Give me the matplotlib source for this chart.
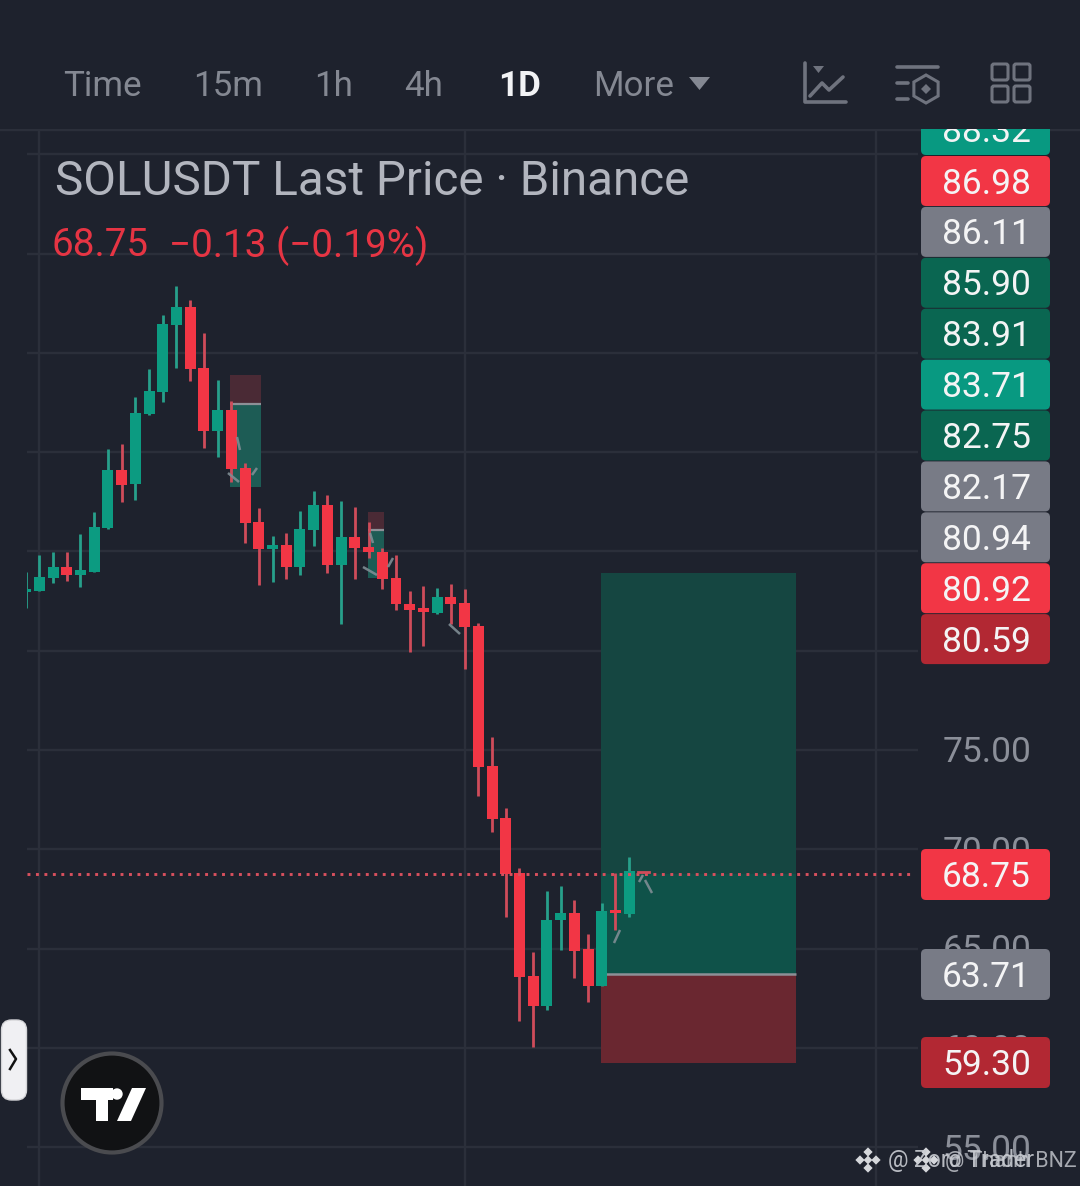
import matplotlib
matplotlib.use("Agg")
import matplotlib.pyplot as plt
from matplotlib.patches import FancyBboxPatch, Rectangle, Circle, Polygon, RegularPolygon

plt.rcParams['font.family'] = ['Roboto', 'DejaVu Sans']

# ---------- data ----------
opens = [82.97,83.02,83.68,84.23,83.81,83.98,86.16,89.10,88.38,91.90,93.04,96.41,97.29,94.22,91.06,92.12,89.18,
         86.48,85.11,85.32,84.23,86.08,87.34,84.31,85.71,85.24,84.98,83.65,82.35,82.15,81.91,82.72,82.39,81.24,
         74.19,71.56,68.79,63.62,62.11,66.44,66.78,64.97,63.12,66.97,66.73]
closes = [83.09,83.73,84.20,83.81,84.06,86.24,89.10,88.34,91.95,93.08,96.45,97.29,94.18,91.06,92.12,89.15,86.44,
          85.12,85.32,84.23,86.11,87.34,84.31,85.71,85.16,84.97,83.61,82.35,82.05,81.96,82.72,82.35,81.18,74.16,
          71.53,68.74,63.56,62.11,66.44,66.81,64.89,63.12,66.89,66.79,68.91]
highs = [83.98,84.82,84.98,84.98,85.88,86.97,90.16,90.41,92.79,94.18,96.90,98.36,97.66,96.01,93.63,92.59,89.44,
         87.20,85.77,85.94,87.03,88.04,87.84,87.54,87.25,86.49,85.17,84.82,83.02,83.26,83.14,83.34,83.11,81.38,
         75.67,72.06,69.04,64.81,67.90,68.15,67.45,65.74,67.31,68.79,69.60]
lows = [82.13,83.02,83.42,83.51,83.19,83.98,86.11,87.47,87.59,91.87,92.54,94.25,93.59,90.22,89.77,88.51,85.41,
        83.31,83.44,83.59,83.81,85.27,83.90,81.34,83.59,84.65,83.09,82.05,79.92,80.25,81.83,81.34,79.08,72.68,
        70.89,66.61,61.37,60.03,61.91,64.93,63.51,62.30,63.12,65.94,66.58]
candle_index = list(range(-1, 44))

price_ticks = [55, 60, 65, 70, 75, 80, 85, 90, 95, 100, 105]
axis_labels = ['75.00', '70.00', '65.00', '60.00', '55.00']
last_price = 68.75
entry, target, stop = 63.71, 83.91, 59.25
early_boxes = [(13.9, 16.16, 93.88, 92.42, 88.24), (23.96, 25.12, 86.98, 86.08, 83.66)]

stack_labels = ['88.32', '86.98', '86.11', '85.90', '83.91', '83.71', '82.75', '82.17', '80.94', '80.92', '80.59']
stack_kinds = ['g', 'r', 'n', 'd', 'd', 'g', 'd', 'n', 'n', 'r', 'k']
tabs = ['Time', '15m', '1h', '4h', '1D', 'More']

# ---------- style ----------
BG = '#1e222d'; GRID = '#2b2f3a'; RED = '#f23645'; GREEN = '#0c9b81'
RWICK = '#cf4c5a'; GWICK = '#27a08b'; TXT = '#8b8f99'
KIND = {'g': '#089981', 'r': RED, 'n': '#787b86', 'd': '#0a6651', 'k': '#b22833'}

W, H = 1080, 1186
fig = plt.figure(figsize=(W/100, H/100), dpi=100, facecolor=BG)

# price axes: spans pixels x 27..918, y 130..1186
ax = fig.add_axes([27/W, 0, (918-27)/W, (H-130)/H], facecolor=BG)
ax.set_xlim(-0.897, 64.05)
ax.set_ylim(53.05, 106.22)
ax.axis('off')

for p in price_ticks:
    ax.axhline(p, color=GRID, lw=1.7, zorder=1)
for xv in [0, 31.05, 61.0]:
    ax.axvline(xv, color=GRID, lw=1.7, zorder=1)

# position boxes
def pbox(x0, x1, y0, y1, c, z=2):
    ax.add_patch(Rectangle((x0, y0), x1-x0, y1-y0, fc=c, ec='none', zorder=z))

pbox(40.94, 55.15, last_price, target, '#154641')
pbox(40.94, 55.15, entry, last_price, '#0f5249')
pbox(40.94, 55.15, stop, entry, '#6a2730')
ax.plot([40.94, 55.15], [entry, entry], color='#8d9097', lw=1.8, zorder=2.5, solid_capstyle='butt')
for x0, x1, top, mid, bot in early_boxes:
    pbox(x0, x1, mid, top, '#4a2a35')
    pbox(x0, x1, bot, mid, '#1d5c55')
    ax.plot([x0, x1], [mid, mid], color='#8d9097', lw=1.6, zorder=2.5, solid_capstyle='butt')

# candles
for i, o, c, h, l in zip(candle_index, opens, closes, highs, lows):
    up = c >= o
    ax.vlines(i, l, h, color=GWICK if up else RWICK, lw=2.0, zorder=3)
    ax.bar(i, abs(c-o), bottom=min(o, c), width=0.8, color=GREEN if up else RED, zorder=4, linewidth=0)

ax.plot([-0.897, 63.6], [last_price, last_price], color='#d9505e', lw=2.1, zorder=5,
        linestyle=(0, (1.0, 1.9)))

# ---------- pixel overlay ----------
ov = fig.add_axes([0, 0, 1, 1], facecolor='none')
ov.set_xlim(0, W); ov.set_ylim(H, 0); ov.axis('off')

# separator
ov.plot([0, W], [129.5, 129.5], color=GRID, lw=1.7, zorder=1)

# annotation ticks
for seg in [((237, 437), (240, 450)), ((228, 473), (239, 482)), ((252, 475), (257, 468)),
            ((370, 533), (373, 543)), ((363, 567), (377, 575)), ((388, 567), (393, 558)),
            ((449, 624), (460, 634)), ((614, 943), (620, 930)), ((639, 882), (643, 875)),
            ((645, 880), (652, 893))]:
    ov.plot(*zip(*seg), color='#7f8d94', lw=1.8, alpha=0.9, zorder=6, solid_capstyle='butt')
ov.plot([638, 649], [872, 872], color='#cf4c5a', lw=2, zorder=6)

# axis labels
for lab, yy in zip(axis_labels, [753, 853, 951, 1051, 1150]):
    ov.text(987, yy, lab, color=TXT, fontsize=25.5, ha='center', va='center', zorder=7)

def pill(y0, y1, c, label):
    ov.add_patch(FancyBboxPatch((921, y0), 129, y1-y0, boxstyle='round,pad=0,rounding_size=5',
                                fc=c, ec='none', zorder=8))
    ov.text(986.5, (y0+y1)/2 + 3, label, color='#f4f4f5', fontsize=25.5, ha='center', va='center', zorder=9)

pill(104, 155, KIND[stack_kinds[0]], stack_labels[0])
for k, (lab, kind) in enumerate(zip(stack_labels[1:], stack_kinds[1:])):
    y0 = 156 + 50.9*k
    pill(y0, y0+50, KIND[kind], lab)
pill(849, 900, RED, '68.75')
pill(949, 1000, KIND['n'], '63.71')
pill(1037, 1088, KIND['k'], '59.30')

# header cover
ov.add_patch(Rectangle((0, 0), W, 128.5, fc=BG, ec='none', zorder=10))
for lab, xc in zip(tabs, [102, 228, 334, 424, 520, 634]):
    on = lab == '1D'
    ov.text(xc, 87, lab, color='#f2f3f5' if on else '#848892', fontsize=25.2,
            fontweight='bold' if on else 'normal', ha='center', va='center', zorder=11)
ov.add_patch(Polygon([(689, 77), (710, 77), (699.5, 90)], fc='#848892', ec='none', zorder=11))

IC = '#6f737e'
def iline(pts, lw=2.6):
    ov.plot(*zip(*pts), color=IC, lw=lw, zorder=11, solid_capstyle='round', solid_joinstyle='round')
iline([(805, 63), (805, 102), (846, 102)])
iline([(810, 96), (822, 83), (829, 90), (843, 77)])
ov.add_patch(Polygon([(813, 66), (824, 66), (818.5, 73)], fc=IC, ec='none', zorder=11))
iline([(897, 67), (938, 67)]); iline([(897, 83), (908, 83)]); iline([(897, 99), (908, 99)])
ov.add_patch(RegularPolygon((926, 89), 6, radius=14, fc='none', ec=IC, lw=2.2, zorder=11))
ov.add_patch(RegularPolygon((926, 89), 4, radius=5, fc=IC, ec='none', zorder=11))
for xi, yi in [(992, 64), (1014, 64), (992, 86), (1014, 86)]:
    ov.add_patch(FancyBboxPatch((xi, yi), 16, 16, boxstyle='round,pad=0,rounding_size=2',
                                fc='none', ec=IC, lw=2.2, zorder=11))

# titles
ov.text(55, 182, 'SOLUSDT Last Price · Binance', color='#b2b5be', fontsize=34.3, ha='left', va='center', zorder=11)
ov.text(52, 246, '68.75', color=RED, fontsize=27.8, ha='left', va='center', zorder=11, alpha=0.95)
ov.text(169, 246, '−0.13 (−0.19%)', color=RED, fontsize=27.8, ha='left', va='center', zorder=11, alpha=0.95)

# left handle
ov.add_patch(FancyBboxPatch((1.5, 1020), 25, 80, boxstyle='round,pad=0,rounding_size=10',
                            fc='#f0f0f3', ec='#d5d5d8', lw=1, zorder=11))
ov.plot([10, 16, 10], [1050, 1059, 1069], color='#111111', lw=1.8, zorder=12)

# logo
ov.add_patch(Circle((112, 1103), 49.5, fc='#111214', ec='#4a4b4f', lw=3, zorder=11))
ov.add_patch(Polygon([(81, 1088), (113, 1088), (113, 1100), (108, 1100), (108, 1121), (96, 1121), (96, 1100), (81, 1100)],
                     fc='white', ec='none', zorder=12))
ov.add_patch(Circle((117, 1094), 5.7, fc='white', ec='none', zorder=12))
ov.add_patch(Polygon([(132, 1088), (146, 1088), (131, 1121), (117, 1121)], fc='white', ec='none', zorder=12))

# watermark
def diamond(cx, cy, s):
    for dx, dy in [(0, -s), (0, s), (-s, 0), (s, 0)]:
        ov.add_patch(RegularPolygon((cx+dx, cy+dy), 4, radius=s*0.58, fc='#d5d7db', ec='none', zorder=12))
    ov.add_patch(RegularPolygon((cx, cy), 4, radius=s*0.55, fc='#d5d7db', ec='none', zorder=12))
diamond(868, 1160, 8)
diamond(926, 1160, 8)
ov.text(888, 1161, '@ Zoro Trader', color='#c9ccd2', fontsize=16.5, ha='left', va='center', zorder=12, alpha=0.9)
ov.text(945, 1161, '@ Thanh BNZ', color='#c9ccd2', fontsize=15.5, ha='left', va='center', zorder=12, alpha=0.8)

fig.savefig('out.png', dpi=100, facecolor=BG)
